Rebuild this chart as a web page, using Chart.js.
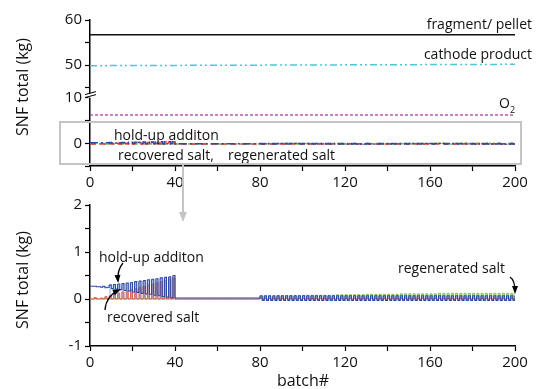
<!DOCTYPE html>
<html>
<head>
<meta charset="utf-8">
<script src="https://cdn.jsdelivr.net/npm/chart.js@4.4.1/dist/chart.umd.min.js"></script>
<style>
  html, body { margin: 0; padding: 0; background: #fff; }
  #wrap { position: relative; width: 537px; height: 389px; overflow: hidden; }
  canvas { position: absolute; left: 0; }
  #overlay { position: absolute; left: 0; top: 0; pointer-events: none; }
</style>
</head>
<body>
<div id="wrap">
  <canvas id="top-chart" width="537" height="200" style="top:0"></canvas>
  <canvas id="bottom-chart" width="537" height="199" style="top:190px"></canvas>
  <svg id="overlay" width="537" height="389">
    <rect x="60" y="122" width="461" height="42" fill="none" stroke="#c4c4c4" stroke-width="2"/>
    <line x1="183" y1="164" x2="183" y2="214" stroke="#c4c4c4" stroke-width="2"/>
    <polygon points="179,212 187,212 183,222" fill="#c4c4c4"/>
  </svg>
</div>
<script>
// batch numbers (x axis)
const batches = Array.from({ length: 201 }, (_, i) => i);
const lineEnds = [0, 200];

// tick positions
const batchTicks = [0, 20, 40, 60, 80, 100, 120, 140, 160, 180, 200];
const topHighTicks = [45, 50, 55, 60];
const topLowTicks = [-5, 0, 5, 10];
const bottomTicks = [-1, -0.5, 0, 0.5, 1, 1.5, 2];

// top panel flat lines (kg)
const fragmentLine = [56.7, 56.7];
const cathodeLine = [49.85, 50.15];
const oxygenLine = [6.3, 6.3];

// per batch values (kg), index = batch#
const holdup = [
  0.27, 0.27, 0.27, 0.26, 0.26, 0.25, 0.27, 0.24, 0.25, 0.30,
  0.22, 0.31, 0.21, 0.32, 0.20, 0.33, 0.18, 0.34, 0.17, 0.35,
  0.15, 0.37, 0.14, 0.38, 0.12, 0.39, 0.11, 0.41, 0.10, 0.42,
  0.08, 0.43, 0.07, 0.45, 0.05, 0.46, 0.04, 0.47, 0.03, 0.50,
  0.02, 0.02, 0.02, 0.02, 0.02, 0.02, 0.02, 0.02, 0.02, 0.02,
  0.02, 0.02, 0.02, 0.02, 0.02, 0.02, 0.02, 0.02, 0.02, 0.02,
  0.02, 0.02, 0.02, 0.02, 0.02, 0.02, 0.02, 0.02, 0.02, 0.02,
  0.02, 0.02, 0.02, 0.02, 0.02, 0.02, 0.02, 0.02, 0.02, 0.02,
  0.07, -0.03, 0.07, -0.03, 0.07, -0.03, 0.07, -0.03, 0.07, -0.03,
  0.07, -0.03, 0.07, -0.03, 0.07, -0.03, 0.07, -0.03, 0.07, -0.03,
  0.07, -0.03, 0.07, -0.03, 0.07, -0.03, 0.07, -0.03, 0.07, -0.03,
  0.07, -0.03, 0.07, -0.03, 0.07, -0.03, 0.07, -0.03, 0.07, -0.03,
  0.07, -0.03, 0.07, -0.03, 0.07, -0.03, 0.07, -0.03, 0.07, -0.03,
  0.07, -0.03, 0.07, -0.03, 0.07, -0.03, 0.07, -0.03, 0.07, -0.03,
  0.07, -0.03, 0.07, -0.03, 0.07, -0.03, 0.07, -0.03, 0.07, -0.03,
  0.07, -0.03, 0.07, -0.03, 0.07, -0.03, 0.07, -0.03, 0.07, -0.03,
  0.07, -0.03, 0.07, -0.03, 0.07, -0.03, 0.07, -0.03, 0.07, -0.03,
  0.07, -0.03, 0.07, -0.03, 0.07, -0.03, 0.07, -0.03, 0.07, -0.03,
  0.07, -0.03, 0.07, -0.03, 0.07, -0.03, 0.07, -0.03, 0.07, -0.03,
  0.07, -0.03, 0.07, -0.03, 0.07, -0.03, 0.07, -0.03, 0.07, -0.03,
  0.07
];
const recovered = [
  0, 0, 0.03, 0, 0, 0.02, 0, 0.05, 0, 0.07,
  0, 0.10, 0, 0.12, 0, 0.15, 0, 0.17, 0, 0.20,
  0, 0.22, 0, 0.25, 0, 0.27, 0, 0.30, 0, 0.32,
  0, 0.35, 0, 0.37, 0, 0.40, 0, 0.42, 0, 0.45,
  0, 0, 0, 0, 0, 0, 0, 0, 0, 0,
  0, 0, 0, 0, 0, 0, 0, 0, 0, 0,
  0, 0, 0, 0, 0, 0, 0, 0, 0, 0,
  0, 0, 0, 0, 0, 0, 0, 0, 0, 0,
  0.02, 0, 0.02, 0, 0.02, 0, 0.02, 0, 0.02, 0,
  0.02, 0, 0.02, 0, 0.02, 0, 0.02, 0, 0.02, 0,
  0.02, 0, 0.02, 0, 0.02, 0, 0.02, 0, 0.02, 0,
  0.02, 0, 0.02, 0, 0.02, 0, 0.02, 0, 0.02, 0,
  0.02, 0, 0.02, 0, 0.02, 0, 0.02, 0, 0.02, 0,
  0.02, 0, 0.02, 0, 0.02, 0, 0.02, 0, 0.02, 0,
  0.02, 0, 0.02, 0, 0.02, 0, 0.02, 0, 0.02, 0,
  0.02, 0, 0.02, 0, 0.02, 0, 0.02, 0, 0.02, 0,
  0.02, 0, 0.02, 0, 0.02, 0, 0.02, 0, 0.02, 0,
  0.02, 0, 0.02, 0, 0.02, 0, 0.02, 0, 0.02, 0,
  0.02, 0, 0.02, 0, 0.02, 0, 0.02, 0, 0.02, 0,
  0.02, 0, 0.02, 0, 0.02, 0, 0.02, 0, 0.02, 0,
  0.02
];
const regenerated = [
  0, 0, 0, 0, 0, 0, 0, 0, 0, 0,
  0, 0, 0, 0, 0, 0, 0, 0, 0, 0,
  0, 0, 0, 0, 0, 0, 0, 0, 0, 0,
  0, 0, 0, 0, 0, 0, 0, 0, 0, 0,
  0, 0, 0, 0, 0, 0, 0, 0, 0, 0,
  0, 0, 0, 0, 0, 0, 0, 0, 0, 0,
  0, 0, 0, 0, 0, 0, 0, 0, 0, 0,
  0, 0, 0, 0, 0, 0, 0, 0, 0, 0,
  0.06, -0.01, 0.06, -0.01, 0.06, -0.01, 0.06, -0.01, 0.07, -0.01,
  0.07, -0.01, 0.07, -0.01, 0.07, -0.01, 0.07, -0.01, 0.07, -0.01,
  0.08, -0.01, 0.08, -0.01, 0.08, -0.01, 0.08, -0.01, 0.08, -0.01,
  0.08, -0.01, 0.08, -0.01, 0.08, -0.01, 0.09, -0.01, 0.09, -0.01,
  0.09, -0.01, 0.09, -0.01, 0.09, -0.01, 0.09, -0.01, 0.09, -0.01,
  0.10, -0.01, 0.10, -0.01, 0.10, -0.01, 0.10, -0.01, 0.10, -0.01,
  0.10, -0.01, 0.10, -0.01, 0.10, -0.01, 0.11, -0.01, 0.11, -0.01,
  0.11, -0.01, 0.11, -0.01, 0.11, -0.01, 0.11, -0.01, 0.11, -0.01,
  0.11, -0.01, 0.11, -0.01, 0.12, -0.01, 0.12, -0.01, 0.12, -0.01,
  0.12, -0.01, 0.12, -0.01, 0.12, -0.01, 0.12, -0.01, 0.12, -0.01,
  0.12, -0.01, 0.12, -0.01, 0.12, -0.01, 0.12, -0.01, 0.12, -0.01,
  0.12, -0.01, 0.12, -0.01, 0.12, -0.01, 0.12, -0.01, 0.12, -0.01,
  0.12
];

const BLUE = '#2a48a6';
const RED = '#e53a33';
const GREEN = '#7ec44f';

Chart.defaults.font.family = "'Open Sans', sans-serif";
Chart.defaults.font.size = 15;
Chart.defaults.color = '#111';
Chart.defaults.animation = false;

function pts(xs, ys) {
  return ys.map((y, i) => ({ x: xs[i], y: y }));
}

function setTicks(values) {
  return scale => { scale.ticks = values.map(v => ({ value: v })); };
}

function tickGrid() {
  return {
    display: true,
    drawOnChartArea: false,
    drawTicks: true,
    tickLength: 5,
    tickColor: '#000',
    tickWidth: 1.2
  };
}

function batchAxis() {
  return {
    type: 'linear',
    min: 0,
    max: 200,
    afterBuildTicks: setTicks(batchTicks),
    afterFit: s => { s.height = 34; },
    border: { color: '#000', width: 1.5 },
    grid: tickGrid(),
    ticks: {
      autoSkip: false,
      maxRotation: 0,
      padding: 3,
      callback: v => (v % 40 === 0 ? v : '')
    }
  };
}

function drawText(ctx, text, x, y, align, size) {
  ctx.save();
  ctx.font = (size || 14) + "px 'Open Sans', sans-serif";
  ctx.fillStyle = '#111';
  ctx.textAlign = align || 'left';
  ctx.textBaseline = 'middle';
  ctx.fillText(text, x, y);
  ctx.restore();
}

function drawYTitle(ctx, y) {
  ctx.save();
  ctx.translate(23, y);
  ctx.rotate(-Math.PI / 2);
  ctx.font = "16px 'Open Sans', sans-serif";
  ctx.fillStyle = '#111';
  ctx.textAlign = 'center';
  ctx.textBaseline = 'middle';
  ctx.fillText('SNF total (kg)', 0, 0);
  ctx.restore();
}

function curvedArrow(ctx, x0, y0, cx, cy, x1, y1) {
  ctx.save();
  ctx.strokeStyle = '#000';
  ctx.fillStyle = '#000';
  ctx.lineWidth = 1.3;
  ctx.beginPath();
  ctx.moveTo(x0, y0);
  ctx.quadraticCurveTo(cx, cy, x1, y1);
  ctx.stroke();
  const a = Math.atan2(y1 - cy, x1 - cx);
  ctx.beginPath();
  ctx.moveTo(x1 + 2 * Math.cos(a), y1 + 2 * Math.sin(a));
  ctx.lineTo(x1 - 6 * Math.cos(a) + 3 * Math.sin(a), y1 - 6 * Math.sin(a) - 3 * Math.cos(a));
  ctx.lineTo(x1 - 6 * Math.cos(a) - 3 * Math.sin(a), y1 - 6 * Math.sin(a) + 3 * Math.cos(a));
  ctx.closePath();
  ctx.fill();
  ctx.restore();
}

const topNotes = {
  id: 'topNotes',
  afterDraw(chart) {
    const ctx = chart.ctx;
    drawYTitle(ctx, 87);
    drawText(ctx, 'fragment/ pellet', 532, 25, 'right');
    drawText(ctx, 'cathode product', 532, 55, 'right');
    drawText(ctx, 'O', 499, 104);
    drawText(ctx, '2', 510, 110, 'left', 9);
    drawText(ctx, 'hold-up additon', 114, 136);
    drawText(ctx, 'recovered salt,', 118, 156);
    drawText(ctx, 'regenerated salt', 228, 156);
    // axis break mark
    const yb = chart.scales.yLow.top;
    ctx.save();
    ctx.fillStyle = '#fff';
    ctx.fillRect(88, yb - 2, 5, 4);
    ctx.strokeStyle = '#000';
    ctx.lineWidth = 1;
    ctx.beginPath();
    ctx.moveTo(85, yb - 1); ctx.lineTo(96, yb - 4);
    ctx.moveTo(85, yb + 2); ctx.lineTo(96, yb - 1);
    ctx.stroke();
    ctx.restore();
  }
};

const bottomNotes = {
  id: 'bottomNotes',
  afterDraw(chart) {
    const ctx = chart.ctx;
    drawYTitle(ctx, 90);
    drawText(ctx, 'hold-up additon', 99, 68);
    drawText(ctx, 'recovered salt', 107, 128);
    drawText(ctx, 'regenerated salt', 398, 79);
    drawText(ctx, 'batch#', 303, 191, 'center', 16);
    curvedArrow(ctx, 123, 73, 117, 80, 118, 91);
    curvedArrow(ctx, 105, 120, 106, 106, 119, 100);
    curvedArrow(ctx, 510, 87, 515, 90, 515, 102);
  }
};

// fill only under the raised part of each pulse
function pulseFill(color) {
  return ctx => (ctx.p0.parsed.x >= 9 && ctx.p0.parsed.y > ctx.p1.parsed.y ? color : 'rgba(0,0,0,0)');
}

function stepSet(label, ys, color, fill, yAxisID, dash, width, gated) {
  const ds = {
    label: label,
    data: pts(batches, ys),
    yAxisID: yAxisID,
    stepped: true,
    borderColor: color,
    backgroundColor: fill && !gated ? fill : 'rgba(0,0,0,0)',
    fill: fill ? 'origin' : false,
    borderWidth: width || (dash ? 1.5 : 1.2),
    borderDash: dash || [],
    pointRadius: 0
  };
  if (fill && gated) ds.segment = { backgroundColor: pulseFill(fill) };
  return ds;
}

new Chart(document.getElementById('top-chart'), {
  type: 'line',
  data: {
    datasets: [
      { label: 'fragment/ pellet', data: pts(lineEnds, fragmentLine), yAxisID: 'yHigh',
        borderColor: '#111', borderWidth: 1.5, pointRadius: 0 },
      { label: 'cathode product', data: pts(lineEnds, cathodeLine), yAxisID: 'yHigh',
        borderColor: '#4cc8d8', borderWidth: 1.5, borderDash: [7, 3, 2, 3, 2, 3], pointRadius: 0 },
      { label: 'O2', data: pts(lineEnds, oxygenLine), yAxisID: 'yLow',
        borderColor: '#c055b5', borderWidth: 1.5, borderDash: [3, 2], pointRadius: 0 },
      stepSet('hold-up additon', holdup, BLUE, null, 'yLow', [8, 3, 2, 3]),
      stepSet('recovered salt', recovered, RED, null, 'yLow', [6, 4]),
      stepSet('regenerated salt', regenerated, GREEN, null, 'yLow', [6, 3, 2, 3])
    ]
  },
  options: {
    responsive: false,
    layout: { padding: { top: 20, right: 22, left: 0, bottom: 0 } },
    plugins: { legend: { display: false }, tooltip: { enabled: false } },
    scales: {
      x: batchAxis(),
      yLow: {
        type: 'linear', position: 'left', stack: 'snf', stackWeight: 70.4,
        min: -4.8, max: 10.5,
        afterBuildTicks: setTicks(topLowTicks),
        afterFit: s => { s.width = 90; },
        border: { color: '#000', width: 1.5 },
        grid: tickGrid(),
        ticks: { autoSkip: false, padding: 3, callback: v => (v % 10 === 0 ? v : '') }
      },
      yHigh: {
        type: 'linear', position: 'left', stack: 'snf', stackWeight: 75.6,
        min: 43.2, max: 60,
        afterBuildTicks: setTicks(topHighTicks),
        afterFit: s => { s.width = 90; },
        border: { color: '#000', width: 1.5 },
        grid: tickGrid(),
        ticks: { autoSkip: false, padding: 3, callback: v => (v % 10 === 0 ? v : '') }
      }
    }
  },
  plugins: [topNotes]
});

new Chart(document.getElementById('bottom-chart'), {
  type: 'line',
  data: {
    datasets: [
      stepSet('hold-up additon', holdup, BLUE, 'rgba(125,155,215,0.5)', 'y', null, 1.1, true),
      stepSet('recovered salt', recovered, RED, 'rgba(240,100,100,0.7)', 'y', null, 0.8),
      stepSet('regenerated salt', regenerated, GREEN, 'rgba(160,210,120,0.45)', 'y', null, 1)
    ]
  },
  options: {
    responsive: false,
    layout: { padding: { top: 15, right: 22, left: 0, bottom: 0 } },
    plugins: { legend: { display: false }, tooltip: { enabled: false } },
    scales: {
      x: Object.assign(batchAxis(), { afterFit: s => { s.height = 43; } }),
      y: {
        type: 'linear', position: 'left',
        min: -1, max: 2,
        afterBuildTicks: setTicks(bottomTicks),
        afterFit: s => { s.width = 90; },
        border: { color: '#000', width: 1.5 },
        grid: tickGrid(),
        ticks: { autoSkip: false, padding: 3, callback: v => (Number.isInteger(v) ? v : '') }
      }
    }
  },
  plugins: [bottomNotes]
});
</script>
</body>
</html>
